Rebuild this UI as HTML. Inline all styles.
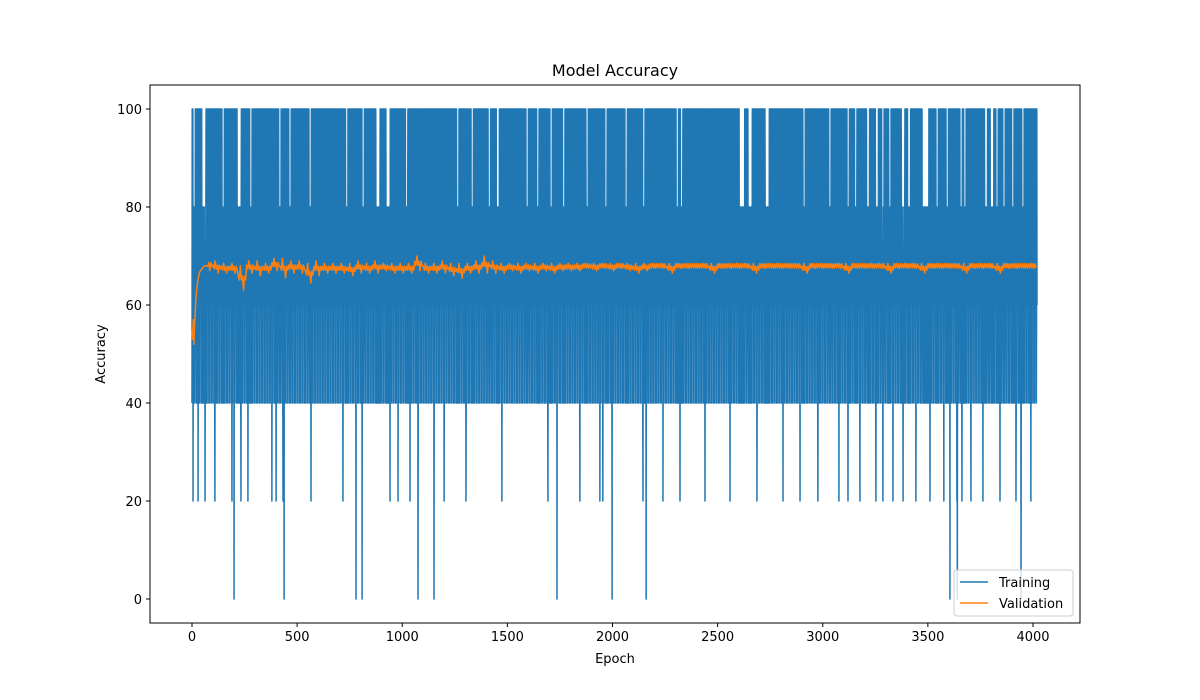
<!DOCTYPE html>
<html><head><meta charset="utf-8">
<style>
body{margin:0;background:#fff;}
svg{display:block;font-family:"DejaVu Sans","Liberation Sans",sans-serif;}
</style></head>
<body>
<svg id="chart" width="1200" height="700">
<rect width="1200" height="700" fill="#fff"/>
<text x="615" y="76" font-size="16" text-anchor="middle">Model Accuracy</text>
<text x="615" y="663" font-size="13" text-anchor="middle">Epoch</text>
<text x="105" y="354" font-size="13" text-anchor="middle" transform="rotate(-90 105 354)">Accuracy</text>
<g id="plot"></g>
<g id="axes"></g>
<g>
<rect x="954" y="570" width="119" height="46" rx="3" fill="#fff" fill-opacity="0.8" stroke="#ccc"/>
<line x1="960" y1="582" x2="988" y2="582" stroke="#1f77b4" stroke-width="1.5"/>
<text x="999" y="587" font-size="13">Training</text>
<line x1="960" y1="603" x2="988" y2="603" stroke="#ff7f0e" stroke-width="1.5"/>
<text x="999" y="608" font-size="13">Validation</text>
</g>
</svg>
<script>
const xTicks=[0,500,1000,1500,2000,2500,3000,3500,4000];
const yTicks=[0,20,40,60,80,100];
const nEpochs=4020;
const basePattern=[40,60,80,60];
const zeroEpochs=[200,438,780,809,1075,1151,1736,1998,2160,3605,3640,3943];
const twentyEpochs=[5,29,62,109,190,233,266,380,400,433,566,718,942,980,1037,1199,1303,1474,1693,1845,1940,1954,2145,2240,2321,2440,2559,2687,2811,2892,2977,3077,3120,3177,3253,3286,3334,3382,3443,3510,3576,3638,3662,3705,3762,3843,3919,3990];
const hundredGapStart=[6,48,58,143,215,224,277,415,462,557,733,809,877,924,1018,1261,1328,1409,1449,1589,1642,1703,1765,1875,1965,2060,2146,2303,2326,2604,2646,2727,2907,3030,3116,3154,3209,3254,3282,3316,3374,3404,3474,3539,3587,3653,3672,3770,3799,3825,3858,3901,3948];
const hundredGapEnd=[14,56,66,151,223,232,285,423,470,565,741,817,893,940,1026,1269,1336,1417,1461,1597,1650,1711,1773,1883,1973,2068,2154,2311,2334,2628,2662,2743,2915,3038,3124,3162,3221,3262,3290,3324,3390,3416,3504,3547,3595,3661,3680,3782,3811,3833,3866,3909,3956];
const valEarlyEpochs=[0,3,6,9,12,15,18,22,26,30,35,40,50,60,70];
const valEarly=[55,53,57,52,56,58,61,63,64.5,65.5,66.5,67,67.5,68,68];
const valBucket=40;
const valHigh=[56.5,68.5,69.5,69,68.5,68.5,68,69,69,68.5,
69.5,69.5,69,69,68.5,69,68.5,68.5,68.5,68.5,
69,68.5,69,68.5,68.5,68.5,68.5,70,68.5,68.5,
69,68.5,68.5,68.5,69,70,69,68.5,68.5,68.5,
68.5,68.5,68.5,68.5,68.5,68.5,68.5,68.5,68.5,68.5,
68.5,68.5,68.5,68.5,68.5,68.5,68.5,68.5,68.5,68.5,
68.5,68.5,68.5,68.5,68.5,68.5,68.5,68.5,68.5,68.5,
68.5,68.5,68.5,68.5,68.5,68.5,68.5,68.5,68.5,68.5,
68.5,68.5,68.5,68.5,68.5,68.5,68.5,68.5,68.5,68.5,
68.5,68.5,68.5,68.5,68.5,68.5,68.5,68.5,68.5,68.5,68.5];
const valLow=[51.5,61.5,67,66.5,66.5,66.5,63,66.5,66,66.5,
67,65.5,66.5,66.5,64.5,66,66.5,66.5,66.5,66,
66.5,66.5,66.5,67,66.5,66.5,66.5,67,66.5,66.5,
66.5,66,65.5,66.5,66.5,66.5,66.5,66.5,67,66.5,
67,66.5,67,66.5,67,67,67,67.5,67,67.5,
67,67.5,67,66.5,67,67.5,67.5,66.5,67.5,67.5,
67.5,67.5,66.5,67.5,67.5,67.5,67.5,66.5,67.5,67.5,
67.5,67.5,67.5,66.5,67.5,67.5,67.5,67.5,66.5,67.5,
67.5,67.5,67.5,66.5,67.5,67.5,67.5,66.5,67.5,67.5,
67.5,67.5,66.5,67.5,67.5,67.5,66.5,67.5,67.5,67.5,67.5];

const NS='http://www.w3.org/2000/svg';
const X0=150,X1=1080,Y0=85,Y1=623;
const xs=e=>192+e*(1033-192)/4000;
const ys=v=>599-v*(599-109)/100;
function mk(t,a){const el=document.createElementNS(NS,t);for(const k in a)el.setAttribute(k,a[k]);return el;}
const plot=document.getElementById('plot'),axes=document.getElementById('axes');

// training series
const zs=new Set(zeroEpochs),ts=new Set(twentyEpochs);
function inGap(e){for(let i=0;i<hundredGapStart.length;i++)if(e>=hundredGapStart[i]&&e<=hundredGapEnd[i])return true;return false;}
let d='';
for(let e=0;e<nEpochs;e++){
  let v=basePattern[e%4];
  if(zs.has(e))v=0;else if(ts.has(e))v=20;else if(e%3===1&&!inGap(e))v=100;
  d+=(e?'L':'M')+xs(e).toFixed(2)+' '+ys(v).toFixed(1);
}
const tr=mk('path',{d:d,fill:'none',stroke:'#1f77b4','stroke-width':1.5,'stroke-linejoin':'round'});


plot.appendChild(tr);

// validation series
let vd='';
valEarlyEpochs.forEach((e,i)=>{vd+=(i?'L':'M')+xs(e).toFixed(2)+' '+ys(valEarly[i]).toFixed(1);});
const n=Math.min(valHigh.length,valLow.length);
for(let b=2;b<n;b++){
  const hi=valHigh[b],lo=valLow[b],m=(hi+lo)/2;
  const seq=[m+0.4,m-0.4,hi,m-0.4,m+0.4,lo,m+0.4,m-0.4];
  for(let k=0;k<seq.length;k++){
    const ee=b*valBucket-20+k*5;
    if(ee<=70||ee>nEpochs)continue;
    vd+='L'+xs(ee).toFixed(2)+' '+ys(seq[k]).toFixed(1);
  }
}
const vl=mk('path',{d:vd,fill:'none',stroke:'#ff7f0e','stroke-width':1.5,'stroke-linejoin':'round'});


plot.appendChild(vl);

// axes frame
const fr=mk('rect',{x:X0,y:Y0,width:X1-X0,height:Y1-Y0,fill:'none',stroke:'#000','stroke-width':1});


axes.appendChild(fr);
xTicks.forEach(t=>{
  const x=xs(t);
  const l=mk('line',{x1:x,y1:Y1,x2:x,y2:Y1+4,stroke:'#000'});
  
  
  axes.appendChild(l);
  const tx=mk('text',{x:x,y:Y1+18,'font-size':13,'text-anchor':'middle'});
  tx.textContent=t;
  
  
  axes.appendChild(tx);
});
yTicks.forEach(t=>{
  const y=ys(t);
  const l=mk('line',{x1:X0-4,y1:y,x2:X0,y2:y,stroke:'#000'});
  
  
  axes.appendChild(l);
  const tx=mk('text',{x:X0-8,y:y+5,'font-size':13,'text-anchor':'end'});
  tx.textContent=t;
  
  
  axes.appendChild(tx);
});
</script>
</body></html>
